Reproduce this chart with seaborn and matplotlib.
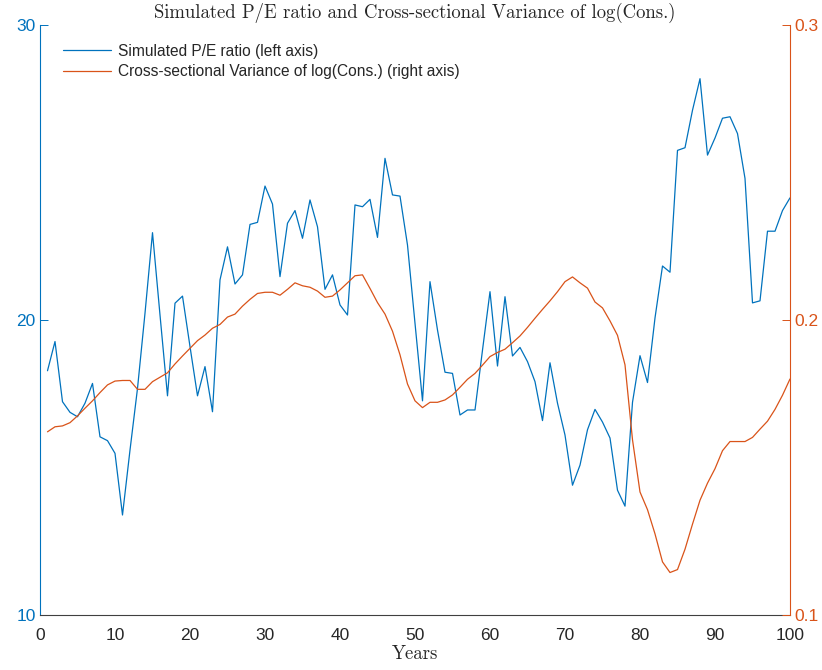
import seaborn as sb
import matplotlib.pyplot as plt
import numpy as np
import pandas as pd

years = list(range(1, 101))
pe_ratio = [18.28, 19.27, 17.23, 16.87, 16.72, 17.18, 17.85, 16.04, 15.91, 15.48,
            13.39, 15.59, 17.68, 20.23, 22.96, 20.17, 17.43, 20.57, 20.81, 19.10,
            17.43, 18.42, 16.89, 21.36, 22.48, 21.22, 21.53, 23.24, 23.31, 24.54,
            23.93, 21.47, 23.28, 23.71, 22.77, 24.07, 23.16, 21.04, 21.53, 20.51,
            20.17, 23.90, 23.84, 24.09, 22.80, 25.48, 24.24, 24.20, 22.54, 19.89,
            17.26, 21.30, 19.66, 18.23, 18.19, 16.78, 16.95, 16.95, 18.98, 20.96,
            18.44, 20.79, 18.78, 19.07, 18.59, 17.91, 16.59, 18.55, 17.18, 16.10,
            14.40, 15.08, 16.28, 16.97, 16.54, 16.00, 14.23, 13.69, 17.21, 18.79,
            17.88, 20.07, 21.83, 21.62, 25.75, 25.84, 27.11, 28.18, 25.59, 26.17,
            26.84, 26.89, 26.32, 24.80, 20.58, 20.65, 23.01, 23.01, 23.71, 24.14]
cons_var = [0.1621, 0.1638, 0.1641, 0.1652, 0.1675, 0.1701, 0.1726, 0.1754, 0.1780, 0.1793,
            0.1795, 0.1795, 0.1765, 0.1765, 0.1791, 0.1806, 0.1821, 0.1851, 0.1878, 0.1904,
            0.1930, 0.1949, 0.1972, 0.1985, 0.2010, 0.2020, 0.2047, 0.2070, 0.2090, 0.2094,
            0.2094, 0.2084, 0.2104, 0.2126, 0.2116, 0.2111, 0.2098, 0.2077, 0.2081, 0.2102,
            0.2126, 0.2150, 0.2153, 0.2107, 0.2059, 0.2020, 0.1962, 0.1882, 0.1783, 0.1726,
            0.1703, 0.1721, 0.1721, 0.1729, 0.1746, 0.1772, 0.1799, 0.1819, 0.1847, 0.1876,
            0.1890, 0.1901, 0.1923, 0.1946, 0.1975, 0.2006, 0.2036, 0.2065, 0.2096, 0.2130,
            0.2146, 0.2126, 0.2108, 0.2061, 0.2041, 0.1997, 0.1948, 0.1848, 0.1594, 0.1417,
            0.1357, 0.1275, 0.1180, 0.1144, 0.1154, 0.1223, 0.1308, 0.1389, 0.1447, 0.1496,
            0.1557, 0.1588, 0.1588, 0.1588, 0.1602, 0.1630, 0.1657, 0.1697, 0.1745, 0.1800]

df = pd.DataFrame({"Years": years, "PE": pe_ratio, "Var": cons_var})

sb.set_theme(style="white")
plt.rcParams['font.family'] = ['Liberation Sans', 'DejaVu Sans']

blue = "#0072BD"
orange = "#D95319"

fig = plt.figure(figsize=(8.22, 6.70), dpi=100)
ax = fig.add_axes([40/822, 1-615/670, 750/822, 590/670])
ax2 = ax.twinx()

sb.lineplot(data=df, x="Years", y="PE", ax=ax, color=blue, linewidth=0.9,
            label="Simulated P/E ratio (left axis)", legend=False)
sb.lineplot(data=df, x="Years", y="Var", ax=ax2, color=orange, linewidth=0.9,
            label="Cross-sectional Variance of log(Cons.) (right axis)", legend=False)

ax.set_xlim(0, 100)
ax.set_ylim(10, 30)
ax2.set_ylim(0.1, 0.3)
ax.set_xticks(range(0, 101, 10))
ax.set_yticks([10, 20, 30])
ax2.set_yticks([0.1, 0.2, 0.3])

for a in (ax, ax2):
    a.spines['top'].set_visible(False)
    for s in a.spines.values():
        s.set_linewidth(0.8)
    a.tick_params(direction='in', length=6, width=0.7, labelsize=12.5)
ax.spines['left'].set_color(blue)
ax.spines['right'].set_visible(False)
ax.spines['bottom'].set_color('#404040')
ax2.spines['left'].set_visible(False)
ax2.spines['bottom'].set_visible(False)
ax2.spines['right'].set_color(orange)
ax.tick_params(axis='y', colors=blue, pad=3)
ax.tick_params(axis='x', colors='#262626', pad=9)
ax2.tick_params(axis='y', colors=orange, pad=3)

ax.set_ylabel("")
ax2.set_ylabel("")
ax.set_xlabel("Years", fontsize=13.5, labelpad=2, family=['cmr10', 'DejaVu Serif'])
ax.set_title("Simulated P/E ratio and Cross-sectional Variance of log(Cons.)",
             fontsize=13.5, pad=5, family=['cmr10', 'DejaVu Serif'])

h1, l1 = ax.get_legend_handles_labels()
h2, l2 = ax2.get_legend_handles_labels()
ax.legend(h1 + h2, l1 + l2, loc='upper left', frameon=False, fontsize=11.2,
          handlelength=3.1, handletextpad=0.45, bbox_to_anchor=(0.012, 0.992),
          labelspacing=0.35)

plt.savefig("out.png", dpi=100)
